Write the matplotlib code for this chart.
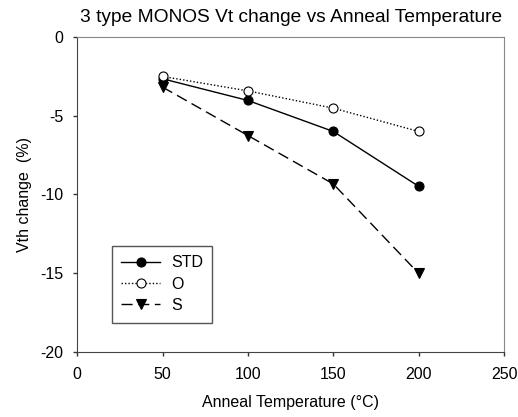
import numpy as np
import matplotlib.pyplot as plt

plt.rcParams['font.family'] = ['Liberation Sans', 'DejaVu Sans']
plt.rcParams['axes.unicode_minus'] = False

temps = [50, 100, 150, 200]
std_vals = [-2.65, -4.03, -6.0, -9.49]
o_vals = [-2.5, -3.42, -4.52, -6.0]
s_vals = [-3.18, -6.26, -9.34, -15.03]

fig = plt.figure(figsize=(5.18, 4.17), dpi=100)
ax = fig.add_axes([0.149, 0.157, 0.824, 0.754])

ax.plot(temps, std_vals, color='black', linestyle='-', linewidth=1,
        marker='o', markersize=6.5, markerfacecolor='black', markeredgewidth=0.8, label='STD')
ax.plot(temps, o_vals, color='black', linestyle=(0, (1, 1.5)), linewidth=1,
        marker='o', markersize=6.5, markerfacecolor='white', markeredgewidth=0.8, label='O')
ax.plot(temps, s_vals, color='black', linestyle=(0, (8, 4)), linewidth=1,
        marker='v', markersize=6.5, markerfacecolor='black', markeredgewidth=0.8, label='S')

ax.set_xlim(0, 250)
ax.set_ylim(-20, 0)
ax.set_xticks([0, 50, 100, 150, 200, 250])
ax.set_yticks([0, -5, -10, -15, -20])
ax.tick_params(direction='out', length=3, width=1, color='#333333', labelsize=11.5)
ax.tick_params(axis='x', pad=8)
ax.tick_params(axis='y', pad=7)

for side in ['left', 'bottom']:
    ax.spines[side].set_color('#444444')
for side in ['top', 'right']:
    ax.spines[side].set_color('#888888')

ax.set_xlabel('Anneal Temperature (°C)', fontsize=11.5, labelpad=9.5)
ax.set_ylabel('Vth change  (%)', fontsize=11.5, labelpad=6)
ax.set_title('3 type MONOS Vt change vs Anneal Temperature', fontsize=13.8, pad=11)

leg = ax.legend(loc='lower left', bbox_to_anchor=(0.081, 0.092), fontsize=11.5,
                fancybox=False, framealpha=1, handlelength=2.4, borderpad=0.6,
                labelspacing=0.4, handletextpad=0.7, borderaxespad=0)
leg.get_frame().set_edgecolor('#555555')

plt.savefig('out.png', dpi=100)
